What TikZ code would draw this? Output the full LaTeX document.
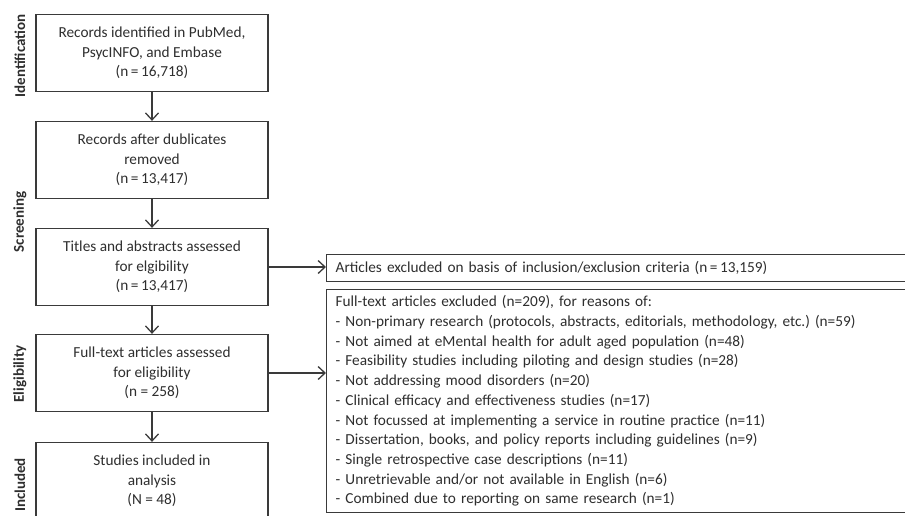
\documentclass[tikz,border=0pt]{standalone}
\usepackage{fontspec}
\setmainfont{Carlito}
\usetikzlibrary{arrows.meta}
\definecolor{ink}{HTML}{2E2E2E}
\definecolor{rule}{HTML}{3A3A3A}
\frenchspacing
\begin{document}
\begin{tikzpicture}[x=1pt,y=1pt,
  font=\fontsize{15.3}{19.7}\selectfont, text=ink,
  stagebox/.style={draw=rule, line width=1.3pt, minimum width=232pt,
    minimum height=77pt, align=center, inner sep=2pt},
  listbox/.style={draw=rule, line width=1.3pt, anchor=north west,
    text width=566pt, align=left, inner xsep=9pt},
  phase/.style={rotate=90, font=\fontsize{15}{18}\selectfont\bfseries, text=ink},
  flow/.style={draw=rule, line width=1.4pt,
    -{Straight Barb[length=7pt,width=13pt,line width=1.3pt]}}]
\path[use as bounding box, clip] (0,0) rectangle (905,-515);

% phase labels
\node[phase] (pid) at (20,-56) {Identification};
\node[phase] (psc) at (20,-222) {Screening};
\node[phase] (pel) at (20,-374) {Eligibility};
\node[phase] (pin) at (20,-485) {Included};

% main flow
\node[stagebox] (b1) at (152,-53) {Records identified in PubMed,\\PsycINFO, and Embase\\(n\,=\,16,718)};
\node[stagebox] (b2) at (152,-160) {Records after dublicates\\removed\\(n\,=\,13,417)};
\node[stagebox] (b3) at (152,-267) {Titles and abstracts assessed\\for elgibility\\(n\,=\,13,417)};
\node[stagebox] (b4) at (152,-373) {Full-text articles assessed\\for eligibility\\(n = 258)};
\node[stagebox] (b5) at (152,-481) {Studies included in\\analysis\\(N = 48)};

% exclusion boxes
\node[listbox, minimum height=27pt, inner ysep=3pt] (r1) at (326,-254)
  {Articles excluded on basis of inclusion/exclusion criteria (n\,=\,13,159)};
\node[listbox, minimum height=219pt, inner ysep=6pt] (r2) at (326,-289)
  {Full-text articles excluded (n=209), for reasons of:\\
   - Non-primary research (protocols, abstracts, editorials, methodology, etc.) (n=59)\\
   - Not aimed at eMental health for adult aged population (n=48)\\
   - Feasibility studies including piloting and design studies (n=28)\\
   - Not addressing mood disorders (n=20)\\
   - Clinical efficacy and effectiveness studies (n=17)\\
   - Not focussed at implementing a service in routine practice (n=11)\\
   - Dissertation, books, and policy reports including guidelines (n=9)\\
   - Single retrospective case descriptions (n=11)\\
   - Unretrievable and/or not available in English (n=6)\\
   - Combined due to reporting on same research (n=1)};

% connectors
\draw[flow] (b1) -- (b2);
\draw[flow] (b2) -- (b3);
\draw[flow] (b3) -- (b4);
\draw[flow] (b4) -- (b5);
\draw[flow] (b3.east) -- (b3.east -| r1.west);
\draw[flow] (b4.east) -- (b4.east -| r2.west);
\end{tikzpicture}
\end{document}
